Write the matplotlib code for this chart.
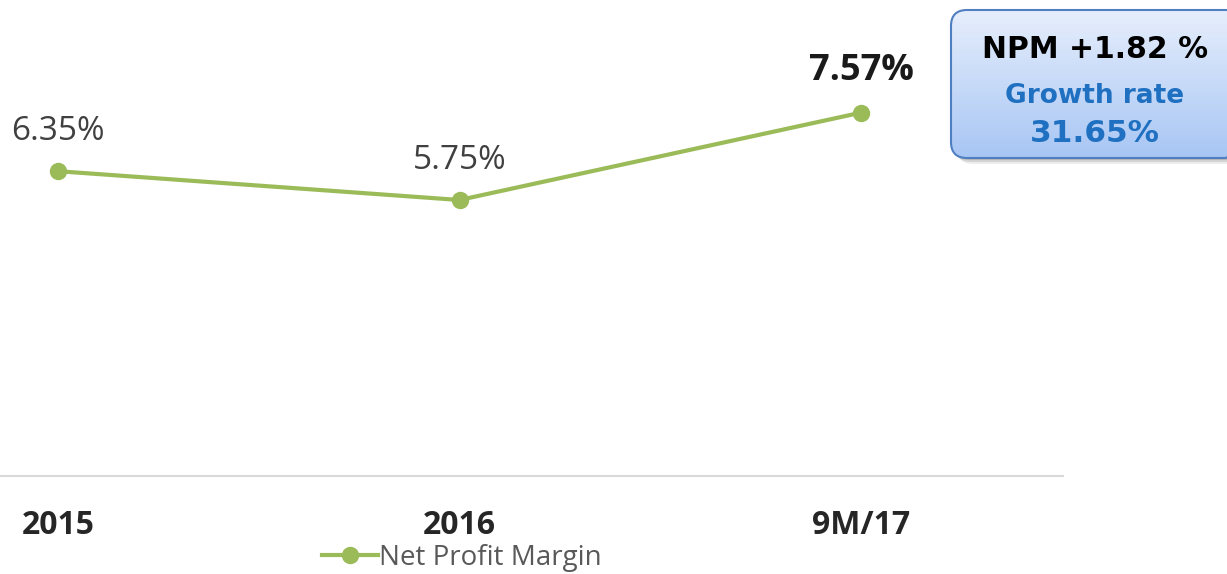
import matplotlib
matplotlib.use('Agg')
import matplotlib.pyplot as plt
import numpy as np
from matplotlib.patches import FancyBboxPatch
from matplotlib.colors import LinearSegmentedColormap

# данные
periods = ['2015', '2016', '9M/17']
npm = [6.35, 5.75, 7.57]
npm_labels = ['6.35%', '5.75%', '7.57%']
series_name = 'Net Profit Margin'
box_lines = ['NPM +1.82 %', 'Growth rate', '31.65%']

green = '#9BBB59'
W, H = 1227, 574
fam = ['Open Sans', 'DejaVu Sans']

fig = plt.figure(figsize=(W / 100, H / 100), dpi=100)
ax = fig.add_axes([0, (H - 476) / H, 1063 / W, 476 / H])

x = np.arange(len(periods))
ax.plot(x, npm, color=green, lw=3, marker='o', markersize=11.5, label=series_name)

# подписи точек
for i, (v, lab) in enumerate(zip(npm, npm_labels)):
    last = i == len(npm) - 1
    ax.annotate(lab, (i, v), xytext=(0, 30 if last else 28.5), textcoords='offset points',
                ha='center', va='center', fontsize=26 if last else 24,
                fontweight='bold' if last else 'normal',
                color='#1a1a1a' if last else '#404040', family=fam)

ax.set_xlim(-58 / 401.5, 1005 / 401.5)
ax.set_ylim(0, 476 / 48)
ax.set_xticks(x)
ax.set_xticklabels(periods, fontsize=23, fontweight='bold', color='#262626', family=fam)
ax.tick_params(axis='x', length=0, pad=24)
ax.set_yticks([])
for s in ['top', 'left', 'right']:
    ax.spines[s].set_visible(False)
ax.spines['bottom'].set_color('#d9d9d9')
ax.spines['bottom'].set_linewidth(1.5)

leg = fig.legend(loc='center', bbox_to_anchor=(462 / W, 1 - 558 / H), frameon=False,
                 handlelength=2.0, handletextpad=0.05,
                 prop={'family': fam, 'size': 20})
for t in leg.get_texts():
    t.set_color('#595959')

# плашка справа
ov = fig.add_axes([0, 0, 1, 1], zorder=5)
ov.set_xlim(0, W)
ov.set_ylim(H, 0)
ov.axis('off')
bx, by, bw, bh = 951, 10, 290, 148
for k, a in [(6, 0.12), (4, 0.2), (2, 0.25)]:
    ov.add_patch(FancyBboxPatch((bx + k, by + k), bw, bh, boxstyle='round,pad=0,rounding_size=16',
                                fc='#6f6f6f', ec='none', alpha=a))
box = FancyBboxPatch((bx, by), bw, bh, boxstyle='round,pad=0,rounding_size=16',
                     fc='none', ec='#4f7fc0', lw=1.5, zorder=3)
grad = np.linspace(0, 1, 100).reshape(-1, 1)
cmap = LinearSegmentedColormap.from_list('b', ['#e6eefc', '#a8c6f4'])
im = ov.imshow(grad, cmap=cmap, extent=(bx, bx + bw, by + bh, by), aspect='auto', zorder=2)
ov.add_patch(box)
im.set_clip_path(box)
ov.set_xlim(0, W)
ov.set_ylim(H, 0)
ov.text(1095, 50, box_lines[0], ha='center', va='center', fontsize=21.5, fontweight='bold',
        color='black', zorder=4)
ov.text(1095, 96, box_lines[1], ha='center', va='center', fontsize=19, fontweight='bold',
        color='#1f70c1', zorder=4)
ov.text(1095, 133, box_lines[2], ha='center', va='center', fontsize=22.5, fontweight='bold',
        color='#1f70c1', zorder=4)

fig.savefig('out.png', dpi=100)
